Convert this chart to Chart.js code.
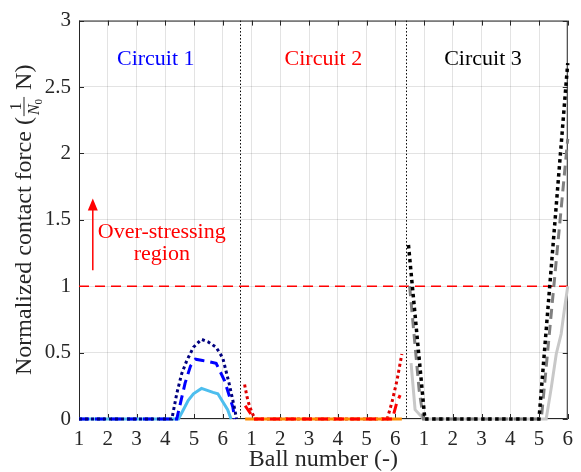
<!DOCTYPE html>
<html>
<head>
<meta charset="utf-8">
<script src="https://cdn.jsdelivr.net/npm/chart.js@4/dist/chart.umd.min.js"></script>
<style>
  html, body { margin: 0; padding: 0; background: #fff; }
</style>
</head>
<body>
<canvas id="forces" width="581" height="472"></canvas>
<script>
// x runs over ball index: 0..5 is circuit 1, 6..11 circuit 2, 12..17 circuit 3
const ballTicks = [1, 2, 3, 4, 5, 6];
const forceTicks = [0, 0.5, 1, 1.5, 2, 2.5, 3];
const circuitNames = ['Circuit 1', 'Circuit 2', 'Circuit 3'];
const circuitColors = ['#0000ff', '#ff0000', '#000000'];
const circuitBounds = [5.6, 11.38];
const limitForce = 1;

// circuit 1
const c1DottedX = [0, 3.23, 3.40, 3.57, 3.75, 3.98, 4.26, 4.50, 4.77, 5.00, 5.23, 5.40, 5.48];
const c1DottedY = [0, 0, 0.19, 0.34, 0.44, 0.54, 0.60, 0.58, 0.54, 0.46, 0.26, 0.09, 0];
const c1DashedX = [0, 3.40, 3.69, 3.88, 4.05, 4.30, 4.55, 4.77, 5.06, 5.35, 5.42];
const c1DashedY = [0, 0, 0.27, 0.40, 0.45, 0.44, 0.43, 0.42, 0.29, 0.09, 0];
const c1SolidX = [0, 3.46, 3.63, 3.80, 3.98, 4.26, 4.66, 4.83, 5.00, 5.17, 5.29];
const c1SolidY = [0, 0, 0.07, 0.14, 0.19, 0.23, 0.20, 0.19, 0.13, 0.07, 0];

// circuit 2
const c2DottedX = [5.76, 5.84, 5.90, 6.01, 6.13, 10.72, 10.89, 11.06, 11.23];
const c2DottedY = [0.26, 0.17, 0.12, 0.05, 0, 0, 0.13, 0.29, 0.49];
const c2DashedX = [5.78, 6.00, 6.08, 10.90, 11.05, 11.17];
const c2DashedY = [0.10, 0.03, 0, 0, 0.12, 0.18];
const c2SolidX = [5.78, 11.23];
const c2SolidY = [0, 0];

// circuit 3
const c3DottedX = [11.46, 12.03, 16.00, 17.00];
const c3DottedY = [1.31, 0, 0, 2.68];
const c3DashedX = [11.50, 11.83, 11.98, 16.08, 17.00];
const c3DashedY = [1.00, 0.22, 0, 0, 2.11];
const c3SolidX = [11.55, 11.69, 11.99, 16.25, 16.43, 16.60, 16.77, 16.88, 17.00];
const c3SolidY = [0.42, 0.07, 0, 0, 0.24, 0.49, 0.64, 0.82, 1.00];

const serif = '"Liberation Serif", "Times New Roman", serif';
const ink = '#262626';

function series(xs, ys) {
    return xs.map((x, i) => ({ x: x, y: ys[i] }));
}

function line(xs, ys, color, width, dash) {
    return {
        data: series(xs, ys),
        borderColor: color,
        borderWidth: width,
        borderDash: dash || [],
        borderCapStyle: 'butt',
        pointRadius: 0,
        tension: 0,
        fill: false,
        clip: false
    };
}

const dotted = [3, 3];
const dashed = [10, 6];

// first dataset ends up on top
const datasets = [
    line(c1DottedX, c1DottedY, '#00007f', 3, dotted),
    line(c1DashedX, c1DashedY, '#0000ff', 3, dashed),
    line(c1SolidX, c1SolidY, '#4dbeee', 3),
    line(c2DashedX, c2DashedY, '#ff0000', 3, dashed),
    line(c2SolidX, c2SolidY, '#ff8c00', 3),
    line(c2DottedX, c2DottedY, '#e00000', 3, dotted),
    line(c3DottedX, c3DottedY, '#000000', 3.5, [3.5, 3.5]),
    line(c3DashedX, c3DashedY, '#808080', 3, dashed),
    line(c3SolidX, c3SolidY, '#c8c8c8', 3),
    line([0, 17], [limitForce, limitForce], '#ff0000', 1.5, [10, 6])
];

// annotation anchors, in axis units
const circuitLabelX = [2.67, 8.5, 14.05];
const circuitLabelY = 2.71;
const arrowX = 0.48;
const arrowFrom = 1.12;
const arrowTo = 1.66;
const noteX = 2.88;
const noteY = [1.41, 1.24];

function drawForceTitle(ctx, area) {
    const head = 'Normalized contact force (';
    const tail = ' N)';
    ctx.save();
    ctx.translate(23, (area.top + area.bottom) / 2);
    ctx.rotate(-Math.PI / 2);
    ctx.fillStyle = ink;
    ctx.textBaseline = 'alphabetic';
    ctx.font = '24px ' + serif;
    const wHead = ctx.measureText(head).width;
    const wTail = ctx.measureText(tail).width;
    ctx.font = 'italic 16px ' + serif;
    const wN = ctx.measureText('N').width;
    ctx.font = '11px ' + serif;
    const wSub = ctx.measureText('0').width;
    const wFrac = wN + wSub + 5;
    let x = -(wHead + wFrac + wTail) / 2;
    const base = 8;

    ctx.textAlign = 'left';
    ctx.font = '24px ' + serif;
    ctx.fillText(head, x, base);
    x += wHead;

    ctx.textAlign = 'center';
    ctx.font = '16px ' + serif;
    ctx.fillText('1', x + wFrac / 2, base - 10);
    ctx.fillRect(x + 1, base - 7.5, wFrac - 2, 1);
    ctx.textAlign = 'left';
    ctx.font = 'italic 16px ' + serif;
    ctx.fillText('N', x + 2, base + 8);
    ctx.font = '11px ' + serif;
    ctx.fillText('0', x + 2 + wN, base + 11);
    x += wFrac;

    ctx.font = '24px ' + serif;
    ctx.fillText(tail, x, base);
    ctx.restore();
}

const decorations = {
    id: 'decorations',
    beforeDatasetsDraw(chart) {
        const { ctx, chartArea: a, scales: { x, y } } = chart;
        ctx.save();

        // dotted separators between the circuits
        ctx.strokeStyle = '#000';
        ctx.lineWidth = 1;
        ctx.setLineDash([1.5, 2]);
        circuitBounds.forEach(b => {
            const px = Math.round(x.getPixelForValue(b)) + 0.5;
            ctx.beginPath();
            ctx.moveTo(px, a.top);
            ctx.lineTo(px, a.bottom);
            ctx.stroke();
        });
        ctx.setLineDash([]);

        // box with inward ticks on every side, under the curves
        ctx.strokeStyle = ink;
        ctx.strokeRect(a.left + 0.5, a.top + 0.5, a.right - a.left - 1, a.bottom - a.top - 1);
        ctx.beginPath();
        for (let i = 0; i <= 17; i++) {
            const px = Math.round(x.getPixelForValue(i)) + 0.5;
            ctx.moveTo(px, a.bottom); ctx.lineTo(px, a.bottom - 5);
            ctx.moveTo(px, a.top); ctx.lineTo(px, a.top + 5);
        }
        forceTicks.forEach(v => {
            const py = Math.round(y.getPixelForValue(v)) + 0.5;
            ctx.moveTo(a.left, py); ctx.lineTo(a.left + 5, py);
            ctx.moveTo(a.right, py); ctx.lineTo(a.right - 5, py);
        });
        ctx.stroke();
        ctx.restore();
    },
    afterDatasetsDraw(chart) {
        const { ctx, scales: { x, y } } = chart;
        ctx.save();

        // circuit names
        ctx.font = '22px ' + serif;
        ctx.textAlign = 'center';
        ctx.textBaseline = 'middle';
        circuitNames.forEach((name, i) => {
            ctx.fillStyle = circuitColors[i];
            ctx.fillText(name, x.getPixelForValue(circuitLabelX[i]), y.getPixelForValue(circuitLabelY));
        });

        // over-stressing note with arrow
        ctx.fillStyle = '#ff0000';
        ctx.strokeStyle = '#ff0000';
        ctx.lineWidth = 1.5;
        const ax = x.getPixelForValue(arrowX);
        const y0 = y.getPixelForValue(arrowFrom);
        const y1 = y.getPixelForValue(arrowTo);
        ctx.beginPath();
        ctx.moveTo(ax, y0);
        ctx.lineTo(ax, y1 + 10);
        ctx.stroke();
        ctx.beginPath();
        ctx.moveTo(ax, y1);
        ctx.lineTo(ax - 5, y1 + 12);
        ctx.lineTo(ax + 5, y1 + 12);
        ctx.closePath();
        ctx.fill();
        ctx.fillText('Over-stressing', x.getPixelForValue(noteX), y.getPixelForValue(noteY[0]));
        ctx.fillText('region', x.getPixelForValue(noteX), y.getPixelForValue(noteY[1]));
        ctx.restore();

        drawForceTitle(ctx, chart.chartArea);
    }
};

new Chart(document.getElementById('forces'), {
    type: 'line',
    data: { datasets: datasets },
    options: {
        responsive: false,
        animation: false,
        devicePixelRatio: 1,
        layout: { padding: { left: 0, right: 6, top: 20, bottom: 0 } },
        plugins: {
            legend: { display: false },
            tooltip: { enabled: false }
        },
        scales: {
            x: {
                type: 'linear',
                min: 0,
                max: 17,
                afterFit: s => { s.height = 53; },
                border: { display: false },
                grid: { color: 'rgba(38,38,38,0.13)', drawTicks: false },
                ticks: {
                    stepSize: 1,
                    padding: 8,
                    color: ink,
                    font: { family: serif, size: 21 },
                    maxRotation: 0,
                    autoSkip: false,
                    callback: v => ballTicks[v % 6]
                },
                title: {
                    display: true,
                    text: 'Ball number (-)',
                    color: ink,
                    font: { family: serif, size: 24, lineHeight: 1.05 },
                    padding: 0
                }
            },
            y: {
                min: 0,
                max: 3,
                afterFit: s => { s.width = 79; },
                border: { display: false },
                grid: { color: 'rgba(38,38,38,0.13)', drawTicks: false },
                ticks: {
                    stepSize: 0.5,
                    padding: 8,
                    color: ink,
                    font: { family: serif, size: 21 },
                    callback: v => String(v)
                }
            }
        }
    },
    plugins: [decorations]
});
</script>
</body>
</html>
